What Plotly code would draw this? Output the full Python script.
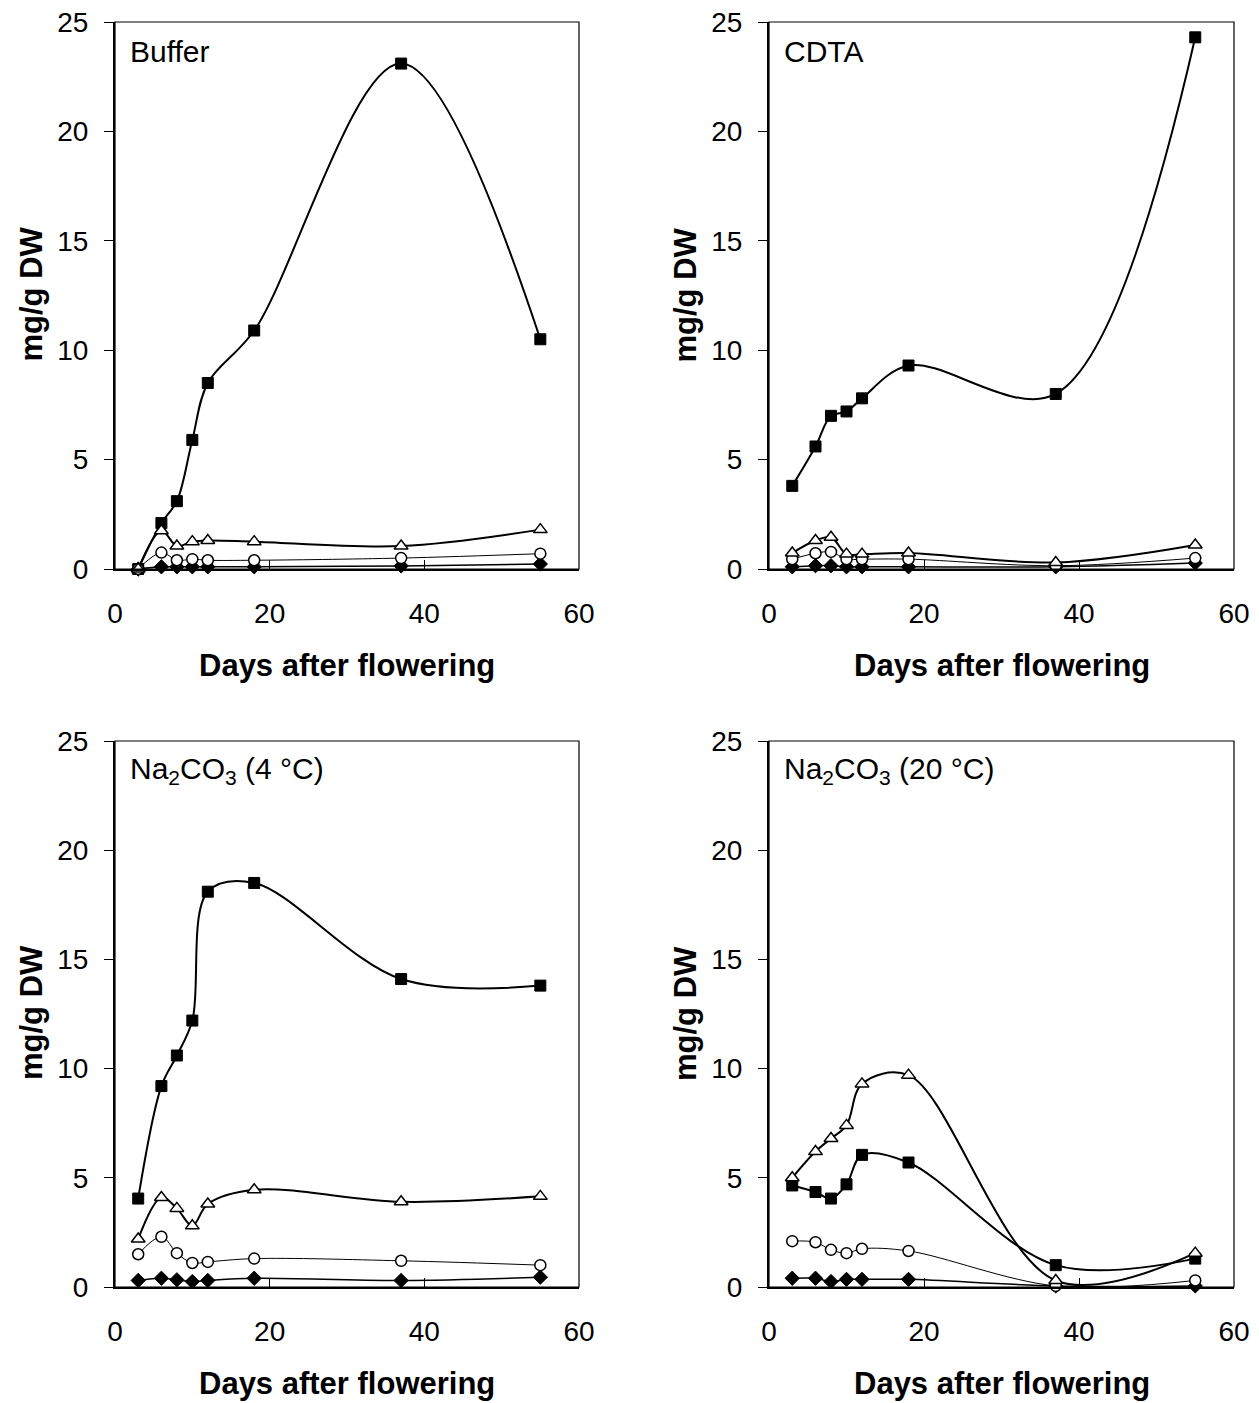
import plotly.graph_objects as go

days = [3, 6, 8, 10, 12, 18, 37, 55]

# Buffer
buf_sq = [0.0, 2.1, 3.1, 5.9, 8.5, 10.9, 23.1, 10.5]
buf_tri = [0.0, 1.75, 1.05, 1.25, 1.3, 1.25, 1.05, 1.8]
buf_cir = [0.0, 0.75, 0.4, 0.45, 0.4, 0.4, 0.5, 0.7]
buf_dia = [0.0, 0.1, 0.1, 0.1, 0.1, 0.1, 0.14, 0.23]

# CDTA
cdta_sq = [3.8, 5.6, 7.0, 7.2, 7.8, 9.3, 8.0, 24.3]
cdta_tri = [0.73, 1.3, 1.45, 0.68, 0.68, 0.73, 0.3, 1.1]
cdta_cir = [0.45, 0.72, 0.78, 0.45, 0.45, 0.45, 0.15, 0.5]
cdta_dia = [0.1, 0.15, 0.15, 0.1, 0.1, 0.1, 0.1, 0.27]

# Na2CO3 (4 °C)
n4_sq = [4.05, 9.2, 10.6, 12.2, 18.1, 18.5, 14.1, 13.8]
n4_tri = [2.2, 4.1, 3.6, 2.8, 3.8, 4.45, 3.9, 4.15]
n4_cir = [1.5, 2.3, 1.55, 1.1, 1.15, 1.3, 1.2, 1.0]
n4_dia = [0.3, 0.4, 0.33, 0.25, 0.3, 0.4, 0.3, 0.45]

# Na2CO3 (20 °C)
n20_sq = [4.65, 4.35, 4.05, 4.7, 6.05, 5.7, 1.0, 1.3]
n20_tri = [5.0, 6.2, 6.8, 7.4, 9.3, 9.7, 0.3, 1.55]
n20_cir = [2.1, 2.05, 1.7, 1.55, 1.75, 1.65, 0.05, 0.3]
n20_dia = [0.4, 0.4, 0.25, 0.35, 0.35, 0.35, 0.05, 0.05]

panels = [
    ("Buffer", buf_sq, buf_tri, buf_cir, buf_dia),
    ("CDTA", cdta_sq, cdta_tri, cdta_cir, cdta_dia),
    ("Na<sub>2</sub>CO<sub>3</sub> (4 °C)", n4_sq, n4_tri, n4_cir, n4_dia),
    ("Na<sub>2</sub>CO<sub>3</sub> (20 °C)", n20_sq, n20_tri, n20_cir, n20_dia),
]

x_ticks = [0, 20, 40, 60]
y_ticks = [0, 5, 10, 15, 20, 25]
x_title = "Days after flowering"
y_title = "mg/g DW"

W, H = 1259, 1403
FONT = "Arial, Liberation Sans, sans-serif"

# pixel boxes of the plot areas (left, right, top, bottom)
boxes = [(115, 579, 22, 569), (769, 1234, 22, 569),
         (115, 579, 741, 1287), (769, 1234, 741, 1287)]

fig = go.Figure()
layout = dict(
    width=W, height=H, margin=dict(l=0, r=0, t=0, b=0, autoexpand=False),
    paper_bgcolor="white", plot_bgcolor="white",
    showlegend=False, font=dict(family=FONT, color="black"),
)
annotations = []
shapes = []

for i, (label, sq, tri, cir, dia) in enumerate(panels):
    n = i + 1
    xa = "x" if n == 1 else f"x{n}"
    ya = "y" if n == 1 else f"y{n}"
    l, r, t, b = boxes[i]
    xd = [l / W, r / W]
    yd = [1 - b / H, 1 - t / H]
    layout["xaxis" if n == 1 else f"xaxis{n}"] = dict(
        domain=xd, range=[0, 60], tickvals=x_ticks, ticks="inside", ticklen=9,
        tickwidth=1, tickcolor="black", showline=True, linewidth=2, linecolor="black",
        showgrid=False, zeroline=False, anchor=ya, ticklabelstandoff=18, automargin=False,
        tickfont=dict(size=28, family=FONT, color="black"),
    )
    layout["yaxis" if n == 1 else f"yaxis{n}"] = dict(
        domain=yd, range=[0, 25], tickvals=y_ticks, ticks="outside", ticklen=9,
        tickwidth=1, tickcolor="black", showline=True, linewidth=2, linecolor="black",
        showgrid=False, zeroline=False, anchor=xa, ticklabelstandoff=10, automargin=False,
        tickfont=dict(size=28, family=FONT, color="black"),
    )
    shapes.append(dict(type="rect", xref=f"{xa} domain", yref=f"{ya} domain",
                       x0=0, x1=1, y0=0, y1=1, line=dict(color="black", width=1.2)))
    # axis titles
    annotations.append(dict(text=f"<b>{x_title}</b>", x=(l + r) / 2 / W, y=1 - (b + 96) / H,
                            xref="paper", yref="paper", showarrow=False,
                            xanchor="center", yanchor="middle",
                            font=dict(size=31, family=FONT, color="black")))
    annotations.append(dict(text=f"<b>{y_title}</b>", x=(l - 84) / W, y=1 - ((t + b) / 2 - 1) / H,
                            xref="paper", yref="paper", showarrow=False, textangle=-90,
                            xanchor="center", yanchor="middle",
                            font=dict(size=31, family=FONT, color="black")))
    annotations.append(dict(text=label, x=(l + 13) / W, y=1 - (t + 30) / H,
                            xref="paper", yref="paper", showarrow=False,
                            xanchor="left", yanchor="middle",
                            font=dict(size=30, family=FONT, color="black")))

    common = dict(x=days, xaxis=xa, yaxis=ya, mode="lines+markers", cliponaxis=False)
    fig.add_trace(go.Scatter(y=sq, line=dict(color="black", width=2, shape="spline"),
                             marker=dict(symbol="square", size=11, color="black",
                                         line=dict(color="black", width=1)), **common))
    fig.add_trace(go.Scatter(y=dia, line=dict(color="black", width=1.5, shape="spline"),
                             marker=dict(symbol="diamond", size=11, color="black",
                                         line=dict(color="black", width=1)), **common))
    fig.add_trace(go.Scatter(y=cir, line=dict(color="black", width=1, shape="spline"),
                             marker=dict(symbol="circle", size=11, color="white",
                                         line=dict(color="black", width=1.5)), **common))
    fig.add_trace(go.Scatter(y=tri, line=dict(color="black", width=2, shape="spline"),
                             marker=dict(symbol="triangle-up", size=12, color="white",
                                         line=dict(color="black", width=1.5)), **common))

layout["annotations"] = annotations
layout["shapes"] = shapes
fig.update_layout(**layout)
fig.write_html("out.html")
